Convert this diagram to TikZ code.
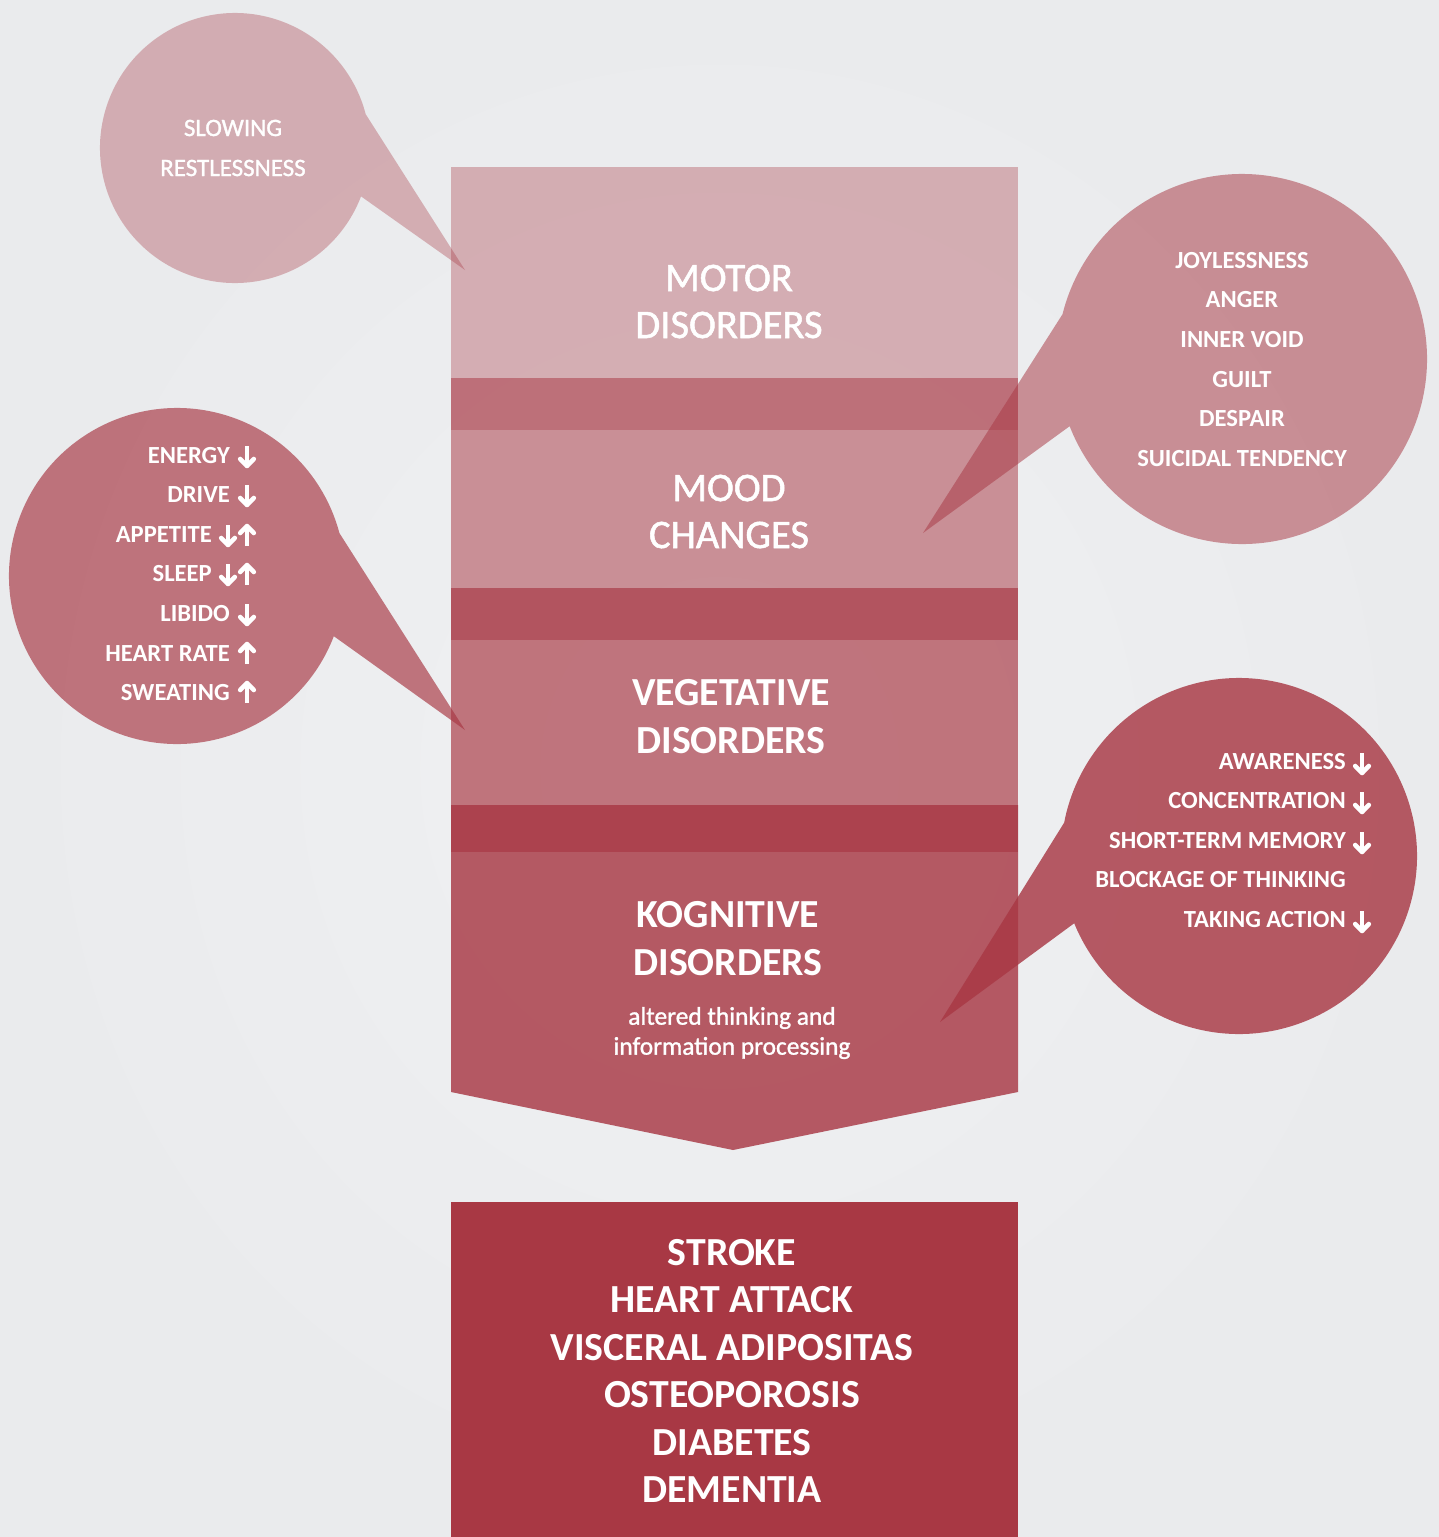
\documentclass[tikz,border=0pt]{standalone}
\usepackage{fontspec}
\setmainfont{Carlito}
\newfontfamily\semib[FakeBold=1.3]{Carlito}
\usetikzlibrary{calc}
\definecolor{base}{HTML}{A83844}
\definecolor{bgin}{HTML}{F0F1F3}
\definecolor{bgout}{HTML}{EAEBED}
\begin{document}
\begin{tikzpicture}[x=1pt,y=-1pt,
  lay/.style={fill=base, fill opacity=#1, draw=none},
  lbl/.style={text=white, inner sep=0pt, align=center, font=\semib\fontsize{40.5}{47}\selectfont},
  lblb/.style={lbl, font=\bfseries\fontsize{39.8}{47.5}\selectfont},
  btxt/.style={text=white, inner sep=0pt, font=\bfseries\fontsize{24.6}{26}\selectfont},
  rtxt/.style={text=white, inner sep=0pt, font=\semib\fontsize{25}{26}\selectfont},
  sub/.style={text=white, inner sep=0pt, align=center, font=\semib\fontsize{25.4}{30}\selectfont},
  dnarrow/.pic={\draw[white,line width=4.6] (0,-11) -- (0,7);
                \draw[white,line width=4.6,line cap=round,line join=round] (-6.8,2.0) -- (0,9) -- (6.8,2.0);},
  uparrow/.pic={\draw[white,line width=4.6] (0,11) -- (0,-7);
                \draw[white,line width=4.6,line cap=round,line join=round] (-6.8,-2.0) -- (0,-9) -- (6.8,-2.0);}]
\useasboundingbox (0,0) rectangle (1439,1537);
\shade[inner color=bgin, outer color=bgout] (0,0) rectangle (1439,1537);

% stacked layers
\fill[lay=0.35] (451,167) rectangle (1018,430);
\fill[lay=0.52] (451,378) rectangle (1018,640);
\fill[lay=0.67] (451,588) rectangle (1018,852);
\fill[lay=0.82] (451,805) -- (1018,805) -- (1018,1092) -- (733,1150) -- (451,1092) -- cycle;
\fill[lay=1] (451,1202) rectangle (1018,1537);

% bubbles
\coordinate (c1) at (235,148);
\coordinate (t1) at (465,270);
\fill[lay=0.35] ($(c1)+(-14.5:135)$) -- (t1) -- ($(c1)+(21:135)$) arc[start angle=21, end angle=345.5, radius=135] -- cycle;

\coordinate (c2) at (177,576);
\coordinate (t2) at (465,730);
\fill[lay=0.67] ($(c2)+(-14.8:168)$) -- (t2) -- ($(c2)+(21:168)$) arc[start angle=21, end angle=345.2, radius=168] -- cycle;

\coordinate (c3) at (1242,359);
\coordinate (t3) at (923,533);
\fill[lay=0.52] ($(c3)+(194:185)$) -- (t3) -- ($(c3)+(158.7:185)$) arc[start angle=158.7, end angle=-166, radius=185] -- cycle;

\coordinate (c4) at (1239,856);
\coordinate (t4) at (940,1022);
\fill[lay=0.82] ($(c4)+(190.8:178)$) -- (t4) -- ($(c4)+(157.8:178)$) arc[start angle=157.8, end angle=-169.2, radius=178] -- cycle;

% box labels
\node[lbl] (motor) at (729,301.5) {MOTOR\\DISORDERS};
\node[lbl] (mood) at (729,511.5) {MOOD\\CHANGES};
\node[lblb] (veg) at (731,716.5) {VEGETATIVE\\DISORDERS};
\node[lblb] (kog) at (728,938.5) {KOGNITIVE\\DISORDERS};
\node[sub] (kogsub) at (732,1033) {altered thinking and\\information processing};
\node[lblb] (final) at (732,1371) {STROKE\\HEART ATTACK\\VISCERAL ADIPOSITAS\\OSTEOPOROSIS\\DIABETES\\DEMENTIA};

% bubble 1
\node[rtxt] (b1a) at (233,128) {SLOWING};
\node[rtxt] (b1b) at (233,168) {RESTLESSNESS};

% bubble 3
\node[btxt] (b3a) at (1242,261) {JOYLESSNESS};
\node[btxt] (b3b) at (1242,300) {ANGER};
\node[btxt] (b3c) at (1242,340) {INNER VOID};
\node[btxt] (b3d) at (1242,380) {GUILT};
\node[btxt] (b3e) at (1242,419) {DESPAIR};
\node[btxt] (b3f) at (1242,459) {SUICIDAL TENDENCY};

% bubble 2
\node[btxt, anchor=east] (b2a) at (230,456) {ENERGY};
\pic (b2aa) at (247,457) {dnarrow};
\node[btxt, anchor=east] (b2b) at (230,495) {DRIVE};
\pic (b2ba) at (247,496) {dnarrow};
\node[btxt, anchor=east] (b2c) at (212,535) {APPETITE};
\pic (b2ca) at (228,536) {dnarrow};
\pic (b2cb) at (247,535) {uparrow};
\node[btxt, anchor=east] (b2d) at (212,574) {SLEEP};
\pic (b2da) at (228,575) {dnarrow};
\pic (b2db) at (247,574) {uparrow};
\node[btxt, anchor=east] (b2e) at (230,614) {LIBIDO};
\pic (b2ea) at (247,615) {dnarrow};
\node[btxt, anchor=east] (b2f) at (230,654) {HEART RATE};
\pic (b2fa) at (247,653) {uparrow};
\node[btxt, anchor=east] (b2g) at (230,693) {SWEATING};
\pic (b2ga) at (247,692) {uparrow};

% bubble 4
\node[btxt, anchor=east] (b4a) at (1346,762) {AWARENESS};
\pic (b4aa) at (1362,764) {dnarrow};
\node[btxt, anchor=east] (b4b) at (1346,801) {CONCENTRATION};
\pic (b4ba) at (1362,803) {dnarrow};
\node[btxt, anchor=east] (b4c) at (1346,841) {SHORT-TERM MEMORY};
\pic (b4ca) at (1362,843) {dnarrow};
\node[btxt, anchor=east] (b4d) at (1346,880) {BLOCKAGE OF THINKING};
\node[btxt, anchor=east] (b4e) at (1346,920) {TAKING ACTION};
\pic (b4ea) at (1362,922) {dnarrow};
\end{tikzpicture}
\end{document}
